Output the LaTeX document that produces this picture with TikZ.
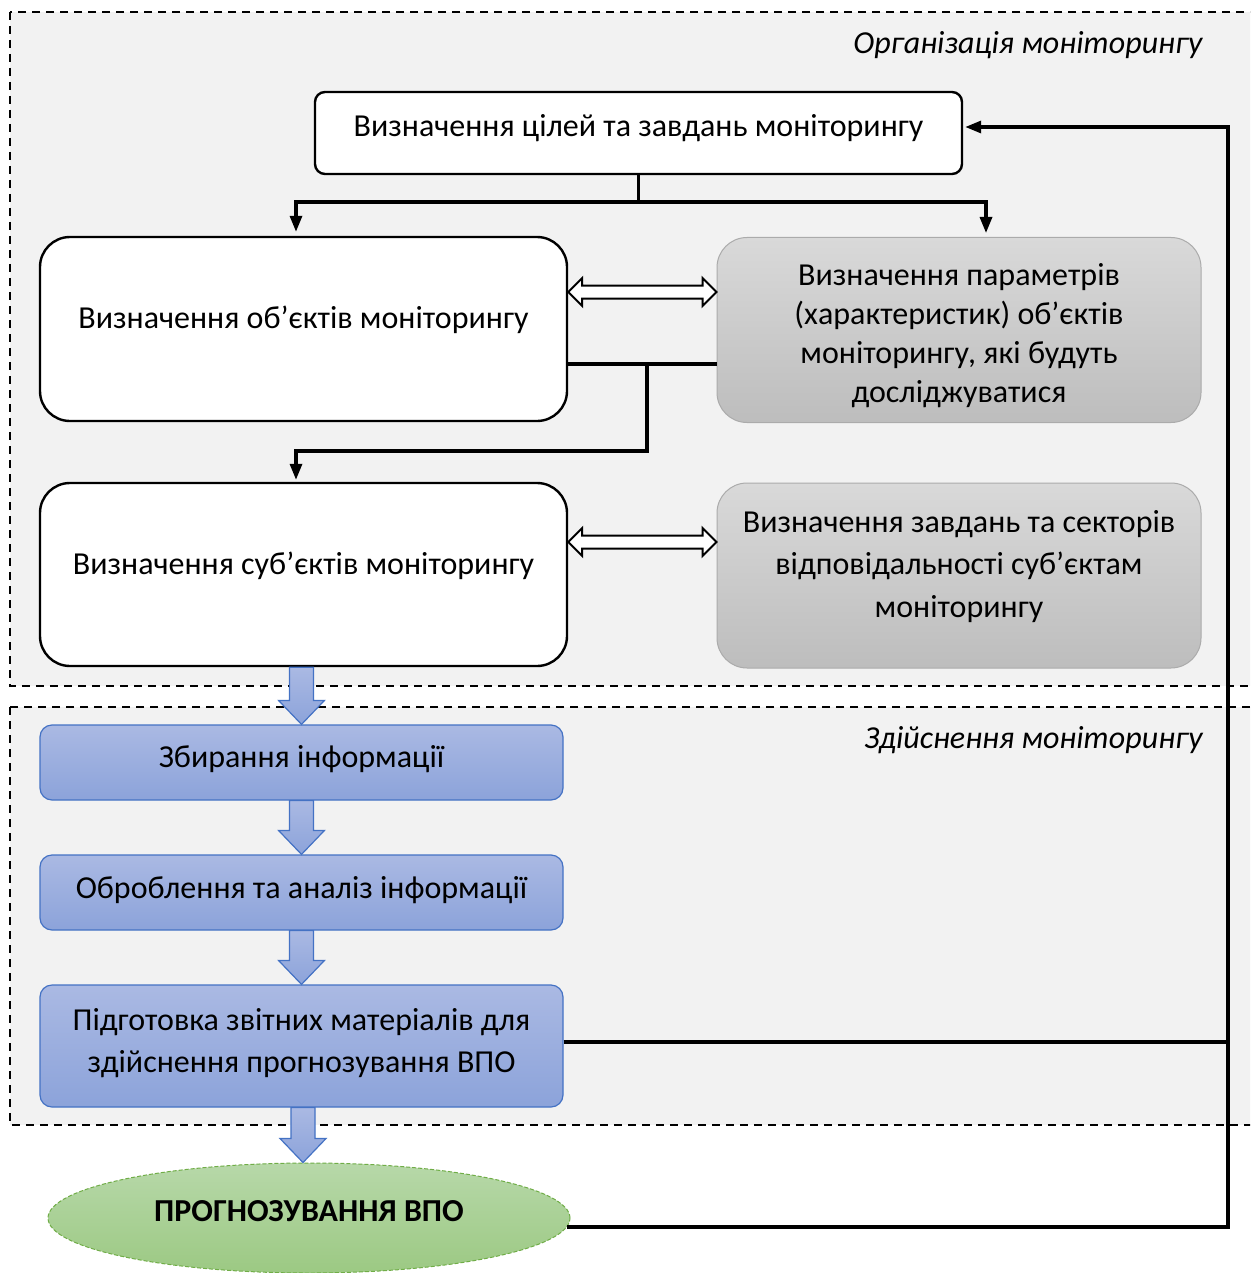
\documentclass[tikz,border=0pt]{standalone}
\usepackage{fontspec}
\setmainfont{Carlito}
\usetikzlibrary{shapes.geometric,arrows.meta,calc}
\definecolor{bgc}{HTML}{F2F2F2}
\definecolor{grayTop}{HTML}{D9D9D9}
\definecolor{grayBot}{HTML}{BDBDBD}
\definecolor{grayBorder}{HTML}{ABABAB}
\definecolor{blueTop}{HTML}{AAB9E3}
\definecolor{blueBot}{HTML}{8CA3DA}
\definecolor{blueBorder}{HTML}{4472C4}
\definecolor{greenTop}{HTML}{B7D8A9}
\definecolor{greenBot}{HTML}{9CC983}
\definecolor{greenBorder}{HTML}{70AD47}
\tikzset{
  frame/.style={draw=black, fill=bgc, dash pattern=on 4pt off 3pt, line width=0.6pt},
  whitebox/.style={draw=black, fill=white, line width=1.2pt, rounded corners=15pt, inner sep=0pt},
  graybox/.style={draw=grayBorder, top color=grayTop, bottom color=grayBot, line width=0.5pt, rounded corners=15pt, inner sep=0pt},
  bluebox/.style={draw=blueBorder, top color=blueTop, bottom color=blueBot, line width=0.6pt, rounded corners=6pt, inner sep=0pt},
  txt/.style={align=center, inner sep=0pt, font=\fontsize{16}{19.5}\selectfont},
  conn/.style={draw=black, line width=1.6pt},
  tip/.style={-{Triangle[length=8pt,width=6pt]}},
  hollow/.style={draw=black, fill=white, line width=1pt, line join=miter},
  barrow/.style={draw=blueBorder, top color=blueTop, bottom color=blueBot, line width=0.6pt},
  sectitle/.style={font=\fontsize{16}{18}\selectfont\itshape, anchor=east, inner sep=0pt}
}
\newcommand{\hollowarrow}[2]{%
  \draw[hollow] (#1) -- ($(#1)+(14,-14)$) -- ($(#1)+(14,-6.5)$) -- ($(#2)+(-14,-6.5)$) -- ($(#2)+(-14,-14)$) -- (#2) -- ($(#2)+(-14,14)$) -- ($(#2)+(-14,6.5)$) -- ($(#1)+(14,6.5)$) -- ($(#1)+(14,14)$) -- cycle;}
\newcommand{\blockarrow}[2]{%
  \path[barrow] ($(#1 -| #2)+(-12,0)$) -- ($(#2)+(-12,-24)$) -- ($(#2)+(-23,-24)$) -- (#2) -- ($(#2)+(23,-24)$) -- ($(#2)+(12,-24)$) -- ($(#1 -| #2)+(12,0)$) -- cycle;}
\begin{document}
\begin{tikzpicture}[x=0.5pt,y=-0.5pt]
\clip (0,0) rectangle (1250,1273);
\fill[white] (0,0) rectangle (1250,1273);
% section frames
\draw[frame] (10,12) rectangle (1262,686);
\draw[frame] (10,707) rectangle (1262,1125);
\node[sectitle] (s1) at (1203,45) {Організація моніторингу};
\node[sectitle] (s2) at (1203,740) {Здійснення моніторингу};

% boxes
\node[whitebox, rounded corners=5pt, minimum width=323.5pt, minimum height=41pt] (top) at (638.5,133) {};
\node[txt] (topt) at (638.5,128) {Визначення цілей та завдань моніторингу};
\node[whitebox, minimum width=263.5pt, minimum height=92pt] (A) at (303.5,329) {};
\node[txt] (At) at (303.5,320) {Визначення об’єктів моніторингу};
\node[graybox, minimum width=242pt, minimum height=92.5pt] (B) at (959,330) {};
\node[txt] (Bt) at (959,335.5) {Визначення параметрів\\(характеристик) об’єктів\\моніторингу, які будуть\\досліджуватися};
\node[whitebox, minimum width=263.5pt, minimum height=91.5pt] (C) at (303.5,574.5) {};
\node[txt] (Ct) at (303.5,566) {Визначення суб’єктів моніторингу};
\node[graybox, minimum width=242pt, minimum height=92.5pt] (D) at (959,575.5) {};
\node[txt, font=\fontsize{16}{21.25}\selectfont] (Dt) at (959,566.5) {Визначення завдань та секторів\\відповідальності суб’єктам\\моніторингу};
\node[bluebox, minimum width=261.5pt, minimum height=37.5pt] (b1) at (301.5,762.5) {};
\node[txt] (b1t) at (301.5,759) {Збирання інформації};
\node[bluebox, minimum width=261.5pt, minimum height=37.5pt] (b2) at (301.5,892.5) {};
\node[txt] (b2t) at (301.5,890) {Оброблення та аналіз інформації};
\node[bluebox, minimum width=261.5pt, minimum height=61pt] (b3) at (301.5,1046) {};
\node[txt, font=\fontsize{16}{21}\selectfont] (b3t) at (301.5,1043) {Підготовка звітних матеріалів для\\здійснення прогнозування ВПО};
\node[ellipse, draw=greenBorder, dash pattern=on 2pt off 1pt, top color=greenTop, bottom color=greenBot, line width=0.5pt, minimum width=261pt, minimum height=55pt, inner sep=0pt] (E) at (309,1218) {};
\node[txt, font=\fontsize{16}{19}\selectfont\bfseries] (Et) at (309,1211) {ПРОГНОЗУВАННЯ ВПО};

% tree from top box
\coordinate (y202) at (0,202);
\coordinate (j) at (top.south |- y202);
\draw[conn] (top.south) -- (j);
\draw[conn,tip] (j) -| ($(A.north)+(-7.5,-4)$);
\draw[conn,tip] (j) -| ($(B.north)+(27,-4)$);

% hollow double arrows
\coordinate (yab) at (0,292);
\coordinate (pL) at (A.east |- yab);
\coordinate (pR) at (B.west |- yab);
\hollowarrow{pL}{pR}
\coordinate (ycd) at (0,542);
\coordinate (qL) at (C.east |- ycd);
\coordinate (qR) at (D.west |- ycd);
\hollowarrow{qL}{qR}

% A-B line and branch to C
\coordinate (y364) at (0,364);
\draw[conn] (A.east |- y364) -- (B.west |- y364);
\coordinate (m) at (647,364);
\coordinate (y451) at (0,451);
\draw[conn,tip] (m) -- (m |- y451) -| ($(C.north)+(-7.5,-2)$);

% block arrows
\blockarrow{C.south}{b1.north}
\blockarrow{b1.south}{b2.north}
\blockarrow{b2.south}{b3.north}
\coordinate (eTop) at ($(E.north)+(-6,0)$);
\blockarrow{b3.south}{eTop}

% feedback
\coordinate (fbT) at (1228,127);
\coordinate (fbB) at (1228,1228);
\coordinate (eR) at (E.-2.2);
\coordinate (b3r) at ($(b3.east)+(0,-4)$);
\coordinate (topR) at (top.east |- fbT);
\draw[conn,tip] (eR) -- (eR -| fbB) -- (fbT) -- ($(topR)+(2,0)$);
\draw[conn] (b3r) -- (b3r -| fbB);
\end{tikzpicture}
\end{document}
